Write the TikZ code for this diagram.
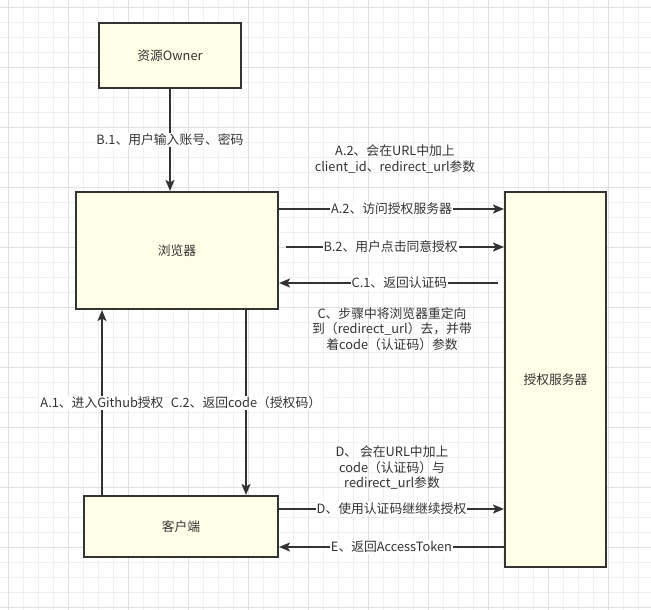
\documentclass[tikz,border=0pt]{standalone}
\usepackage{fontspec}
\setmainfont{Noto Sans CJK SC}
\usetikzlibrary{arrows.meta}
\definecolor{ink}{HTML}{333333}
\definecolor{boxfill}{HTML}{FFFFE8}
\definecolor{gridminor}{HTML}{F0F0F0}
\definecolor{gridmajor}{HTML}{E0E0E0}
\begin{document}
\begin{tikzpicture}[x=1pt,y=-1pt,
  every node/.style={font=\fontsize{12.8}{15.5}\selectfont, text=ink},
  box/.style={draw=ink, line width=2pt, fill=boxfill, inner sep=0pt},
  arr/.style={draw=ink, line width=2pt, -{Stealth[length=11pt,width=9pt,inset=2.5pt]}},
  lab/.style={fill=white, inner sep=1pt},
  note/.style={align=center, inner sep=0pt}]
\useasboundingbox (0,0) rectangle (651,610);
\fill[white] (0,0) rectangle (651,610);
% grid
\foreach \i in {0,...,42} {
  \draw[gridminor, line width=1pt] (8.3+15*\i,0) -- (8.3+15*\i,610);
}
\foreach \i in {0,...,40} {
  \draw[gridminor, line width=1pt] (0,7.3+15*\i) -- (651,7.3+15*\i);
}
\foreach \i in {0,...,10} {
  \draw[gridmajor, line width=1pt] (8.3+60*\i,0) -- (8.3+60*\i,610);
  \draw[gridmajor, line width=1pt] (0,7.3+60*\i) -- (651,7.3+60*\i);
}
% boxes
\node[box, minimum width=142pt, minimum height=65pt] (owner) at (170,55.5) {资源Owner};
\node[box, minimum width=202pt, minimum height=117pt] (browser) at (177,250.5) {浏览器};
\node[box, minimum width=194pt, minimum height=61pt] (client) at (181,526.5) {客户端};
\node[box, minimum width=101pt, minimum height=375pt] (server) at (555.5,379.5) {授权服务器};
% free ends
\coordinate (b2start) at (286,247);
\coordinate (c1start) at (498,283);
% connectors
\draw[arr] (owner.south) -- node[lab, pos=0.5] {B.1、用户输入账号、密码} (owner.south |- browser.north);
\draw[arr] (client.north -| 102,0) -- node[lab, pos=0.497] {A.1、进入Github授权} (browser.south -| 102,0);
\draw[arr] (browser.south -| 246,0) -- node[lab, pos=0.503] {C.2、返回code（授权码）} (client.north -| 246,0);
\draw[arr] (browser.east |- 0,209) -- node[lab] {A.2、访问授权服务器} (server.west |- 0,209);
\draw[arr] (b2start) -- node[lab, pos=0.48] {B.2、用户点击同意授权} (server.west |- b2start);
\draw[arr] (c1start) -- node[lab, pos=0.45] {C.1、返回认证码} (browser.east |- c1start);
\draw[arr] (client.east |- 0,509) -- node[lab] {D、使用认证码继继续授权} (server.west |- 0,509);
\draw[arr] (server.west |- 0,547) -- node[lab, pos=0.5] {E、返回AccessToken} (client.east |- 0,547);
% notes
\node[note] (noteA) at (395,159) {A.2、会在URL中加上\\client\_id、redirect\_url参数};
\node[note] (noteC) at (392,329) {C、步骤中将浏览器重定向\\到（redirect\_url）去，并带\\着code（认证码）参数};
\node[note] (noteD) at (392,468) {D、 会在URL中加上\\code（认证码）与\\redirect\_url参数};
\end{tikzpicture}
\end{document}
